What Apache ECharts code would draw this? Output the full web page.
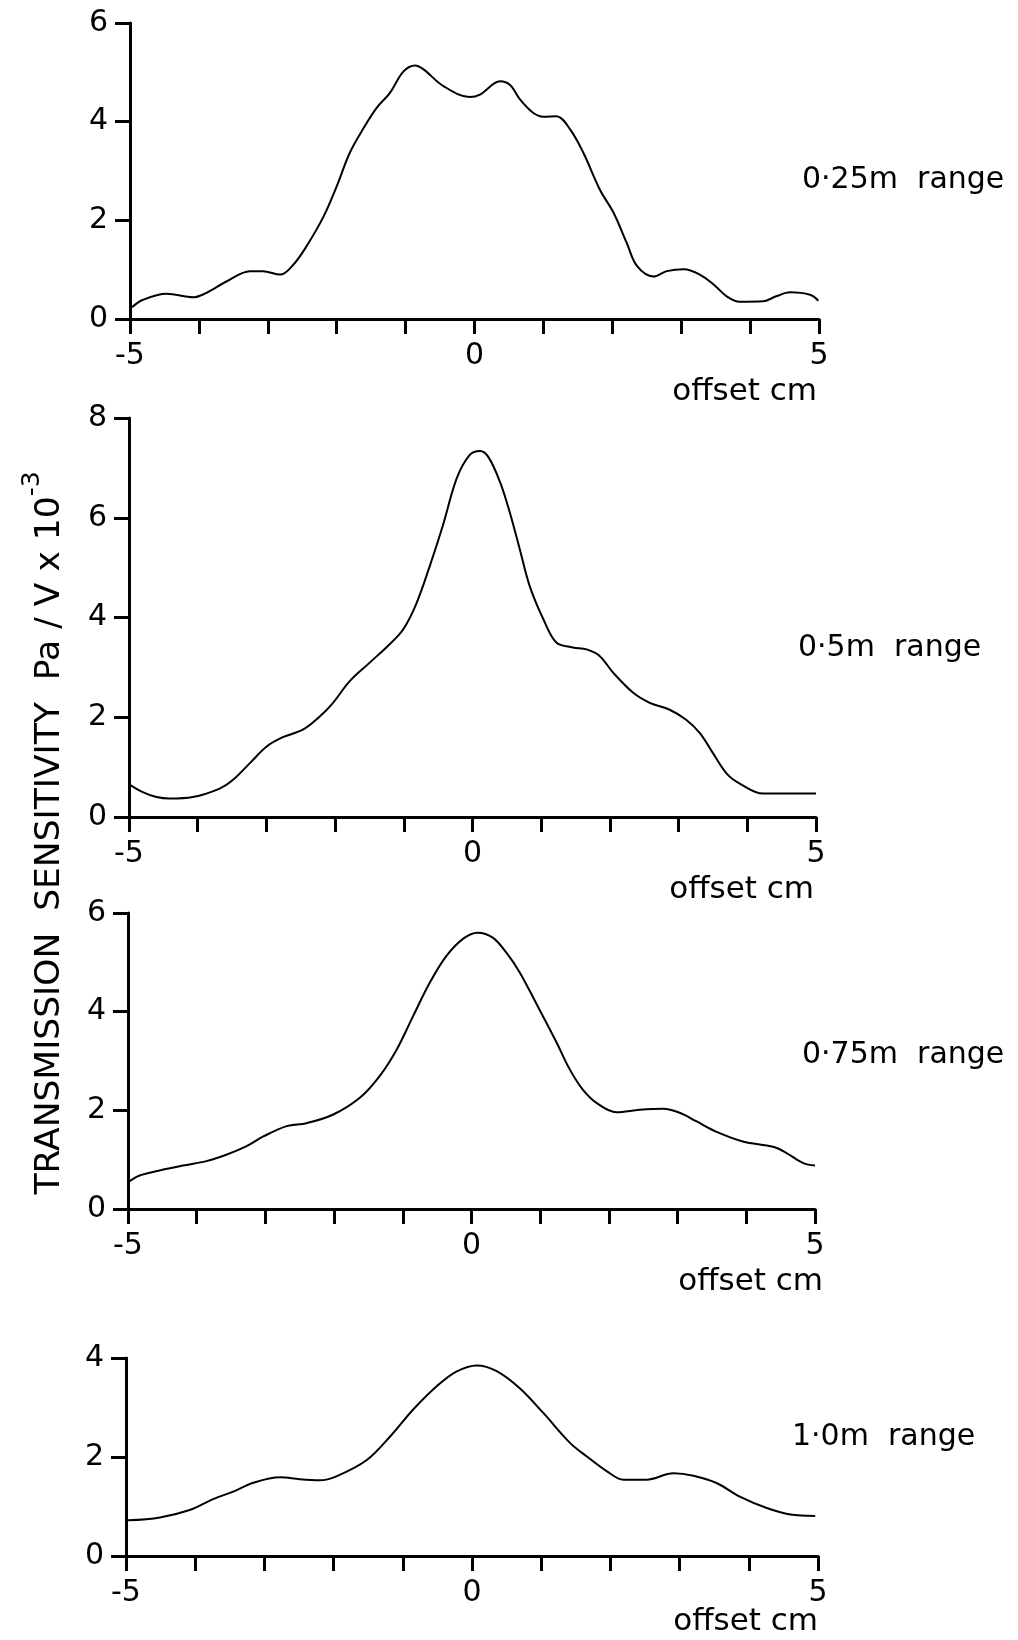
<!DOCTYPE html>
<html>
<head>
<meta charset="utf-8">
<title>Transmission sensitivity vs offset</title>
<script src="https://cdn.jsdelivr.net/npm/echarts@6/dist/echarts.min.js"></script>
<style>
  html, body { margin: 0; padding: 0; background: #fff; }
  #chart { width: 1018px; height: 1640px; }
</style>
</head>
<body>
<div id="chart"></div>
<script>
// offset (cm) vs sensitivity (Pa/V x 10^-3)
const range025 = [
  [-4.97, 0.24], [-4.81, 0.39], [-4.47, 0.51], [-4.08, 0.44], [-3.89, 0.53],
  [-3.60, 0.76], [-3.26, 0.97], [-3.07, 0.97], [-2.82, 0.90], [-2.63, 1.10],
  [-2.44, 1.47], [-2.19, 2.08], [-2.00, 2.69], [-1.81, 3.37], [-1.61, 3.87],
  [-1.42, 4.28], [-1.23, 4.58], [-1.03, 5.02], [-0.86, 5.14], [-0.74, 5.06],
  [-0.45, 4.72], [-0.07, 4.50], [0.08, 4.55], [0.37, 4.82], [0.52, 4.74],
  [0.66, 4.45], [0.85, 4.18], [1.00, 4.10], [1.19, 4.11], [1.39, 3.84],
  [1.58, 3.37], [1.82, 2.62], [2.02, 2.15], [2.21, 1.54], [2.36, 1.07],
  [2.60, 0.86], [2.79, 0.97], [3.04, 1.01], [3.27, 0.90], [3.47, 0.70],
  [3.66, 0.46], [3.85, 0.35], [4.19, 0.36], [4.38, 0.46], [4.58, 0.54],
  [4.87, 0.49], [4.99, 0.37]
]
const range05 = [
  [-4.98, 0.64], [-4.80, 0.50], [-4.60, 0.40], [-4.41, 0.37], [-4.07, 0.40],
  [-3.68, 0.57], [-3.49, 0.74], [-3.24, 1.08], [-3.00, 1.41], [-2.76, 1.60],
  [-2.47, 1.75], [-2.22, 2.02], [-2.03, 2.29], [-1.79, 2.72], [-1.50, 3.09],
  [-1.21, 3.46], [-1.01, 3.76], [-0.82, 4.27], [-0.62, 5.04], [-0.43, 5.85],
  [-0.23, 6.79], [-0.04, 7.26], [0.11, 7.34], [0.23, 7.22], [0.40, 6.72],
  [0.54, 6.12], [0.69, 5.36], [0.83, 4.64], [1.03, 3.97], [1.22, 3.50],
  [1.46, 3.40], [1.66, 3.36], [1.85, 3.23], [2.05, 2.89], [2.34, 2.49],
  [2.58, 2.29], [2.87, 2.15], [3.11, 1.95], [3.31, 1.68], [3.50, 1.28],
  [3.70, 0.87], [3.89, 0.67], [4.23, 0.47], [4.60, 0.47], [5.00, 0.47]
]
const range075 = [
  [-4.98, 0.56], [-4.83, 0.68], [-4.54, 0.78], [-4.20, 0.88], [-3.86, 0.97],
  [-3.57, 1.10], [-3.28, 1.27], [-3.03, 1.47], [-2.69, 1.68], [-2.40, 1.74],
  [-2.02, 1.91], [-1.63, 2.25], [-1.34, 2.69], [-1.09, 3.23], [-0.85, 3.91],
  [-0.61, 4.58], [-0.37, 5.12], [-0.12, 5.48], [0.09, 5.60], [0.31, 5.50],
  [0.51, 5.19], [0.70, 4.80], [0.99, 4.04], [1.24, 3.37], [1.43, 2.83],
  [1.62, 2.42], [1.82, 2.15], [2.11, 1.96], [2.45, 2.01], [2.79, 2.03],
  [3.03, 1.95], [3.27, 1.78], [3.56, 1.57], [3.95, 1.37], [4.39, 1.26],
  [4.58, 1.14], [4.83, 0.93], [5.00, 0.88]
]
const range10 = [
  [-4.97, 0.72], [-4.51, 0.78], [-4.08, 0.93], [-3.74, 1.15], [-3.45, 1.30],
  [-3.16, 1.48], [-2.77, 1.59], [-2.49, 1.55], [-2.20, 1.53], [-1.96, 1.61],
  [-1.52, 1.94], [-1.18, 2.42], [-0.85, 2.96], [-0.51, 3.43], [-0.22, 3.73],
  [0.07, 3.85], [0.35, 3.74], [0.69, 3.39], [1.03, 2.89], [1.42, 2.28],
  [1.66, 2.01], [1.95, 1.71], [2.19, 1.54], [2.52, 1.54], [2.91, 1.67],
  [3.20, 1.62], [3.54, 1.47], [3.87, 1.20], [4.26, 0.97], [4.60, 0.84],
  [4.96, 0.81]
]

const panelData = [range025, range05, range075, range10]
const rangeLabels = ['0·25m  range', '0·5m  range', '0·75m  range', '1·0m  range']
const yMaxes = [6, 8, 6, 4]
const xLabelValues = [-5, 0, 5]
const xAxisName = 'offset cm'

// pixel boxes of the four plots
const boxes = [
  { left: 130, top: 23, width: 689, height: 296 },
  { left: 129, top: 418, width: 687, height: 399 },
  { left: 128, top: 913, width: 687, height: 296 },
  { left: 126, top: 1358, width: 692, height: 198 },
]
const rangePos = [[802, 180], [798, 648], [802, 1055], [792, 1437]]
const namePos = [[817, 392], [814, 890], [823, 1282], [818, 1622]]

const FONT = '"DejaVu Sans", sans-serif'
const ink = '#000'

const chart = echarts.init(document.getElementById('chart'), null, { renderer: 'canvas' })

const option = {
  backgroundColor: '#fff',
  animation: false,
  grid: boxes.map((b) => ({ ...b, containLabel: false })),
  xAxis: boxes.map((_, i) => ({
    gridIndex: i,
    type: 'value',
    min: -5,
    max: 5,
    interval: 1,
    axisLine: { onZero: false, lineStyle: { color: ink, width: 3 } },
    axisTick: { length: 15, lineStyle: { color: ink, width: 3 } },
    axisLabel: {
      margin: 22,
      color: ink,
      fontSize: 30,
      fontFamily: FONT,
      formatter: (v) => (xLabelValues.includes(v) ? String(v) : ''),
    },
    splitLine: { show: false },
  })),
  yAxis: yMaxes.map((m, i) => ({
    gridIndex: i,
    type: 'value',
    min: 0,
    max: m,
    interval: 2,
    axisLine: { show: true, onZero: false, lineStyle: { color: ink, width: 3 } },
    axisTick: { show: true, length: 15, lineStyle: { color: ink, width: 3 } },
    axisLabel: { margin: 22, color: ink, fontSize: 30, fontFamily: FONT },
    splitLine: { show: false },
  })),
  series: panelData.map((d, i) => ({
    type: 'line',
    xAxisIndex: i,
    yAxisIndex: i,
    data: d,
    smooth: 0.35,
    symbol: 'none',
    lineStyle: { color: ink, width: 2 },
  })),
  graphic: [
    ...rangeLabels.map((t, i) => ({
      type: 'text',
      x: rangePos[i][0],
      y: rangePos[i][1],
      style: { text: t, font: '30px ' + FONT, fill: ink, textAlign: 'left', textVerticalAlign: 'middle' },
    })),
    ...namePos.map((p) => ({
      type: 'text',
      x: p[0],
      y: p[1],
      style: { text: xAxisName, font: '31px ' + FONT, fill: ink, textAlign: 'right', textVerticalAlign: 'middle' },
    })),
    {
      type: 'text',
      x: 44,
      y: 833,
      rotation: Math.PI / 2,
      style: {
        text: '{m|TRANSMISSION  SENSITIVITY  Pa / V x 10}{s|-3}',
        textAlign: 'center',
        textVerticalAlign: 'middle',
        fill: ink,
        rich: {
          m: { fontSize: 34.5, fontFamily: FONT, lineHeight: 48, verticalAlign: 'bottom', fill: ink },
          s: { fontSize: 25, fontFamily: FONT, lineHeight: 25, verticalAlign: 'top', fill: ink },
        },
      },
    },
  ],
}

chart.setOption(option)
</script>
</body>
</html>
